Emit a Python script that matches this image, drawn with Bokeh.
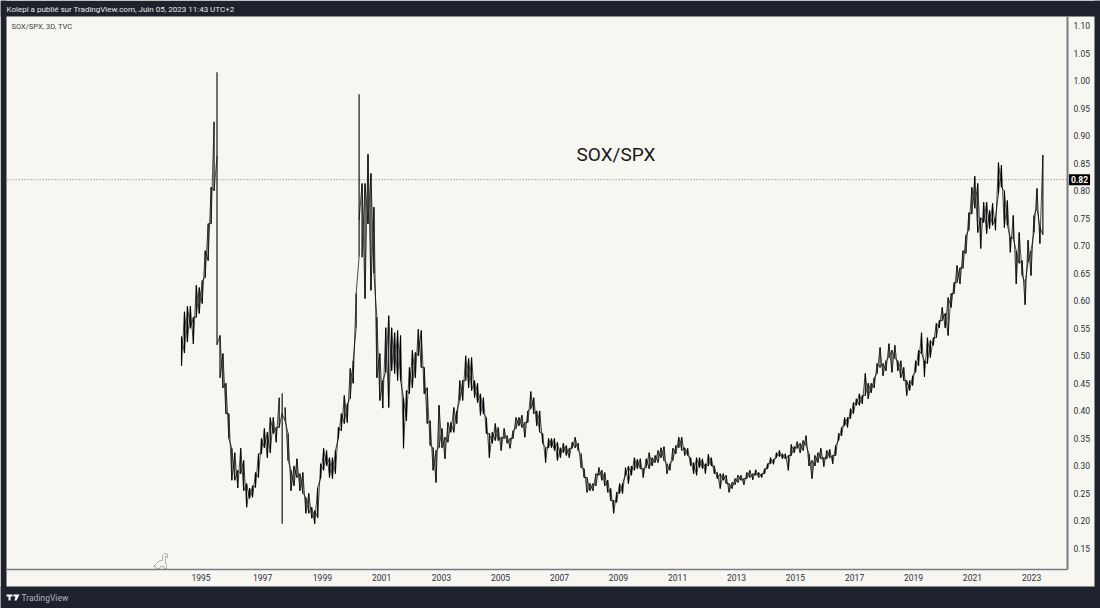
import numpy as np
from bokeh.plotting import figure
from bokeh.models import (FixedTicker, Label, PolyAnnotation, NumeralTickFormatter, Range1d)
from bokeh.embed import file_html
from bokeh.resources import INLINE

highs = [.535,.58,.59,.59,.57,.628,.624,.637,.691,.74,.806,.925,1.015,.537,.504,.45,.395,.332,.324,.292,
 .332,.31,.268,.26,.264,.288,.322,.35,.368,.361,.388,.388,.37,.424,.432,.406,.359,.292,.30,.313,
 .286,.288,.243,.25,.225,.219,.261,.304,.332,.328,.315,.315,.328,.37,.395,.428,.413,.477,.491,.613,
 .975,.813,.813,.866,.831,.77,.57,.504,.455,.551,.573,.551,.542,.546,.537,.424,.437,.479,.51,.506,
 .548,.546,.479,.442,.382,.333,.328,.41,.368,.352,.379,.379,.406,.40,.455,.455,.50,.495,.497,.455,
 .45,.431,.424,.388,.359,.361,.377,.37,.352,.368,.355,.35,.364,.388,.388,.392,.379,.40,.435,.424,
 .40,.40,.359,.333,.35,.35,.35,.343,.333,.341,.337,.332,.343,.352,.341,.322,.295,.279,.268,.268,
 .286,.297,.292,.288,.274,.259,.237,.252,.268,.268,.297,.30,.30,.315,.312,.313,.295,.313,.324,.315,
 .319,.328,.333,.335,.304,.304,.332,.337,.352,.352,.333,.332,.315,.306,.315,.315,.313,.304,.321,.315,
 .30,.288,.286,.286,.283,.268,.27,.277,.283,.283,.277,.288,.292,.286,.293,.288,.286,.295,.304,.315,
 .312,.324,.328,.322,.322,.319,.339,.335,.344,.341,.346,.355,.322,.31,.319,.324,.332,.315,.328,.33,
 .319,.337,.359,.37,.388,.388,.404,.415,.422,.431,.428,.468,.45,.45,.46,.486,.515,.486,.491,.522,
 .51,.519,.491,.491,.479,.455,.455,.464,.491,.51,.542,.491,.533,.528,.533,.559,.564,.588,.577,.606,
 .613,.633,.664,.66,.691,.719,.76,.806,.826,.813,.751,.779,.779,.764,.777,.751,.851,.846,.80,.782,
 .715,.755,.691,.724,.673,.633,.71,.691,.755,.804,.733,.865]
lows = [.482,.505,.525,.55,.522,.57,.577,.595,.642,.673,.74,.80,.52,.46,.442,.395,.35,.274,.274,.26,
 .286,.255,.225,.241,.243,.261,.279,.322,.333,.315,.324,.359,.343,.37,.195,.382,.31,.255,.264,.279,
 .255,.25,.214,.214,.205,.195,.206,.277,.292,.30,.279,.277,.286,.35,.364,.377,.379,.422,.45,.551,
 .68,.679,.604,.74,.619,.65,.46,.419,.405,.47,.406,.473,.468,.455,.455,.332,.382,.431,.442,.46,
 .50,.479,.431,.377,.337,.292,.27,.333,.333,.313,.343,.361,.361,.377,.419,.419,.455,.442,.437,.424,
 .415,.392,.395,.359,.315,.341,.346,.346,.328,.35,.341,.332,.35,.368,.373,.37,.352,.379,.404,.395,
 .373,.361,.341,.306,.333,.333,.328,.31,.315,.324,.319,.315,.332,.333,.328,.297,.279,.252,.255,.255,
 .264,.283,.274,.264,.252,.237,.214,.234,.25,.25,.283,.268,.283,.292,.295,.295,.279,.297,.295,.30,
 .306,.306,.315,.31,.286,.292,.31,.322,.333,.328,.319,.319,.30,.286,.283,.297,.295,.286,.30,.30,
 .286,.277,.259,.274,.268,.252,.259,.266,.27,.274,.266,.277,.279,.275,.283,.279,.279,.286,.295,.304,
 .303,.315,.317,.313,.313,.292,.319,.324,.332,.324,.328,.337,.30,.277,.30,.306,.313,.299,.313,.315,
 .304,.319,.346,.355,.373,.37,.386,.395,.41,.41,.413,.428,.422,.433,.442,.468,.479,.464,.473,.497,
 .47,.495,.473,.46,.455,.428,.437,.446,.47,.482,.504,.462,.486,.497,.519,.533,.551,.564,.551,.537,
 .588,.613,.633,.631,.659,.686,.728,.758,.768,.724,.695,.742,.722,.731,.737,.728,.795,.806,.733,.737,
 .688,.713,.631,.668,.646,.593,.67,.646,.724,.768,.704,.72]
year_labels = ["1995","1997","1999","2001","2003","2005","2007","2009","2011","2013","2015","2017","2019","2021","2023"]
year_bars = [6.6,27.4,47.6,67.6,87.8,107.8,127.7,147.6,167.6,187.5,207.4,227.4,247.3,267.2,287.2]
price_ticks = [.15,.20,.25,.30,.35,.40,.45,.50,.55,.60,.65,.70,.75,.80,.85,.90,.95,1.00,1.05,1.10]
last_value = 0.82

DARK = "#1e222d"; PAPER = "#f8f6f1"; INK = "#000000"; GREY = "#787b86"; FONT = "Roboto"
LEFT_BAR, RIGHT_BAR = -59.1, 299.32
LOW_PRICE, TOP_PRICE = 0.11185, 1.1163

p = figure(width=1100, height=608, output_backend="svg", toolbar_location=None,
           x_range=Range1d(-61.15, 310.47), y_range=Range1d(0.04101, 1.14546),
           y_axis_location="right", min_border=0, border_fill_color=PAPER,
           background_fill_color=PAPER, margin=0)
p.grid.visible = False
p.outline_line_color = None

for l, r, t, b in ((0, 1100, 0, 16), (0, 1100, 586, 608), (0, 6, 0, 608), (1094, 1100, 0, 608)):
    p.add_layout(PolyAnnotation(xs=[l, r, r, l], ys=[t, t, b, b], xs_units="canvas", ys_units="canvas",
                                fill_color=DARK, fill_alpha=1, line_color=None, level="underlay"))

p.segment([LEFT_BAR], [last_value], [RIGHT_BAR], [last_value], line_color=GREY, line_width=1, line_dash="1 2")

hi = np.array(highs); lo = np.array(lows); xs = np.arange(len(hi)); mid = (hi + lo) / 2
p.segment(xs, lo, xs, hi, line_color=INK, line_width=1.1)
a0, a1, b0, b1 = [], [], [], []
for i in range(len(hi) - 1):
    wide = max(hi[i] - lo[i], hi[i + 1] - lo[i + 1]) > 0.23
    if wide:
        pairs = [(np.clip(mid[i + 1], lo[i], hi[i]), np.clip(mid[i], lo[i + 1], hi[i + 1]))]
    else:
        pairs = [(lo[i], hi[i + 1]), (hi[i], lo[i + 1])]
    for u, v in pairs:
        a0.append(xs[i]); a1.append(u); b0.append(xs[i + 1]); b1.append(v)
p.segment(a0, a1, b0, b1, line_color=INK, line_width=0.7)

ax = p.yaxis[0]
ax.fixed_location = RIGHT_BAR
ax.bounds = (LOW_PRICE, TOP_PRICE)
ax.ticker = FixedTicker(ticks=price_ticks)
ax.formatter = NumeralTickFormatter(format="0.00")
ax.major_tick_line_color = None; ax.minor_tick_line_color = None
ax.major_tick_out = 0; ax.major_tick_in = 0
ax.axis_line_color = GREY; ax.axis_line_width = 2
ax.major_label_text_font = FONT
ax.major_label_text_font_size = "8.5px"; ax.major_label_text_color = "#2a2e39"; ax.major_label_standoff = 6

bx = p.xaxis[0]
bx.fixed_location = LOW_PRICE
bx.bounds = (LEFT_BAR, RIGHT_BAR)
bx.ticker = FixedTicker(ticks=year_bars)
bx.major_label_overrides = dict(zip(year_bars, year_labels))
bx.major_tick_line_color = None; bx.minor_tick_line_color = None
bx.major_tick_out = 0; bx.major_tick_in = 0
bx.axis_line_color = GREY; bx.axis_line_width = 1.5
bx.major_label_text_font = FONT; bx.major_label_text_font_size = "8.5px"
bx.major_label_text_color = "#2a2e39"; bx.major_label_standoff = 4

def put(x, y, text, size, color, style="normal", **kw):
    p.add_layout(Label(x=x, y=y, x_units="canvas", y_units="canvas", text=text, text_font=FONT,
                       text_font_size=size, text_color=color, text_font_style=style,
                       text_baseline="middle", **kw))

put(6, 9, "Kolepi a publié sur TradingView.com, Juin 05, 2023 11:43 UTC+2", "8px", "#e8e8e8")
put(11, 26, "SOX/SPX, 3D, TVC", "7.5px", "#3a3e49")
put(576, 154, "SOX/SPX", "19px", "#1a1a1a")
put(21, 597, "TradingView", "8.5px", "#b2b5be")

p.add_layout(Label(x=1079, y=last_value, x_units="canvas", y_units="data", text=f"{last_value:.2f}",
                   text_font=FONT, text_font_size="8.5px", text_font_style="bold", text_color="#ffffff",
                   text_align="center", text_baseline="middle", background_fill_color="#000000",
                   padding=2))

# TradingView logo and dinosaur mark
for sx, sy in (([6,12,12,10,10,8,8,6],[594,594,596,596,600,600,596,596]),
               ([13,19,16,14,15,13],[594,594,600,600,596,596])):
    p.add_layout(PolyAnnotation(xs=sx, ys=sy, xs_units="canvas", ys_units="canvas", fill_color="#ffffff",
                                fill_alpha=1, line_color=None))
p.add_layout(PolyAnnotation(
    xs=[153,158,161,162,162,164,165,167,167,165,165,166,166,164,163,160,159,156,155,153],
    ys=[566,561,560,560,555,553,553,554,557,556,562,565,568,568,566,566,568,568,566,566],
    xs_units="canvas", ys_units="canvas", fill_color=PAPER, fill_alpha=1, line_color="#111111", line_width=1))

open("out.html", "w").write(file_html(p, INLINE))
